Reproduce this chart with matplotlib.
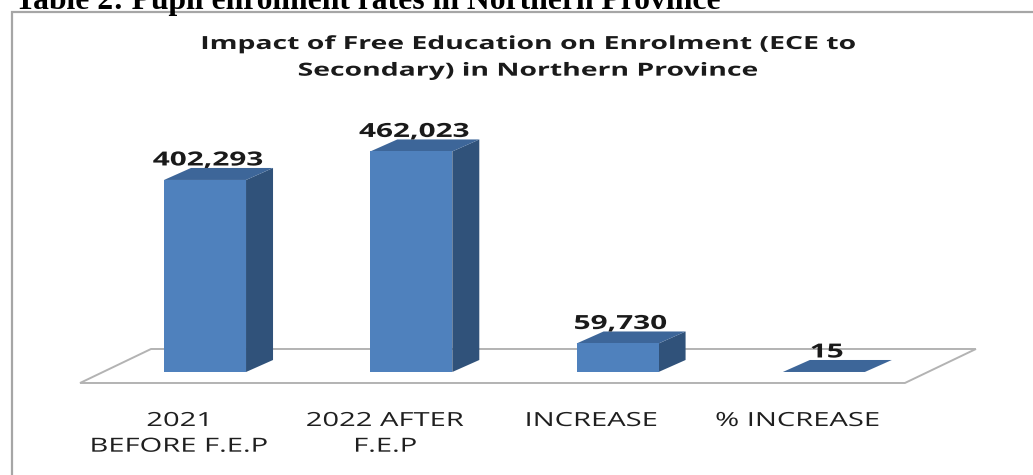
import matplotlib
matplotlib.use('Agg')
import matplotlib.pyplot as plt
from matplotlib.patches import Polygon, Rectangle
from matplotlib.patheffects import AbstractPathEffect
from matplotlib.transforms import Affine2D

cats = ['2021\nBEFORE F.E.P', '2022 AFTER\nF.E.P', 'INCREASE', '% INCREASE']
values = [402293, 462023, 59730, 15]
labels = ['402,293', '462,023', '59,730', '15']

title = 'Impact of Free Education on Enrolment (ECE to\nSecondary) in Northern Province'
caption = 'Table 2: Pupil enrolment rates in Northern Province'


# the original text is stretched sideways, widen glyphs about their centre
class Wide(AbstractPathEffect):
    def __init__(self, sx):
        super().__init__()
        self.sx = sx

    def draw_path(self, renderer, gc, tpath, affine, rgbFace=None):
        ext = tpath.get_extents(affine)
        cx = (ext.x0 + ext.x1) / 2
        a = affine + Affine2D().translate(-cx, 0).scale(self.sx, 1).translate(cx, 0)
        renderer.draw_path(gc, tpath, a, rgbFace)


W, H = 1033, 475
fig = plt.figure(figsize=(W/100, H/100), dpi=100)
ax = fig.add_axes([0, 0, 1, 1])
ax.set_xlim(-0.994, 4.014)
ax.set_ylim(-215800, 779300)
ax.axis('off')

ux = (4.014 + 0.994) / W
uy = (779300 + 215800) / H

bw = 82 * ux
dx = 27 * ux
dy = 12 * uy

front_c = '#4F81BD'
side_c = '#30527A'
top_c = '#3D6699'

# floor
fx0, fx1 = -0.606, 3.393
floor = [(fx0, -11*uy), (fx1, -11*uy), (fx1 + 71*ux, 23*uy), (fx0 + 71*ux, 23*uy)]
ax.add_patch(Polygon(floor, closed=True, facecolor='white', edgecolor='#B3B3B3', lw=1.4, zorder=1))

for i, v in enumerate(values):
    x0 = i - bw/2
    x1 = i + bw/2
    ax.add_patch(Polygon([(x1, 0), (x1+dx, dy), (x1+dx, v+dy), (x1, v)], closed=True,
                         facecolor=side_c, edgecolor='none', zorder=2))
    ax.add_patch(Polygon([(x0, v), (x1, v), (x1+dx, v+dy), (x0+dx, v+dy)], closed=True,
                         facecolor=top_c, edgecolor='none', zorder=2))
    ax.add_patch(Polygon([(x0, 0), (x1, 0), (x1, v), (x0, v)], closed=True,
                         facecolor=front_c, edgecolor='none', zorder=3))
    ax.text(i + 3*ux, v + dy + 2.5*uy, labels[i], ha='center', va='baseline',
            family='Open Sans', fontweight='bold', fontsize=14, color='#1A1A1A',
            path_effects=[Wide(1.53)], zorder=4)
    ax.text(i - 26*ux, -40*uy, cats[i], ha='center', va='top', family='Open Sans',
            fontsize=14, color='#1F1F1F', linespacing=1.55,
            path_effects=[Wide(1.5)])

fig.text(527/W, 1 - 35/H, title, ha='center', va='top', family='Open Sans',
         fontweight='bold', fontsize=13, color='#1A1A1A', linespacing=1.62,
         path_effects=[Wide(1.57)])

fig.text(15/W, 1 - 9/H, caption, ha='left', va='baseline', family='Liberation Serif',
         fontweight='bold', fontsize=22.8, color='black')

fig.add_artist(Rectangle((12/W, -0.05), 1.1, 1.05 - 12/H, transform=fig.transFigure,
                         fill=False, edgecolor='#A6A6A6', lw=1.6, clip_on=False))

fig.savefig('out.png', dpi=100)
